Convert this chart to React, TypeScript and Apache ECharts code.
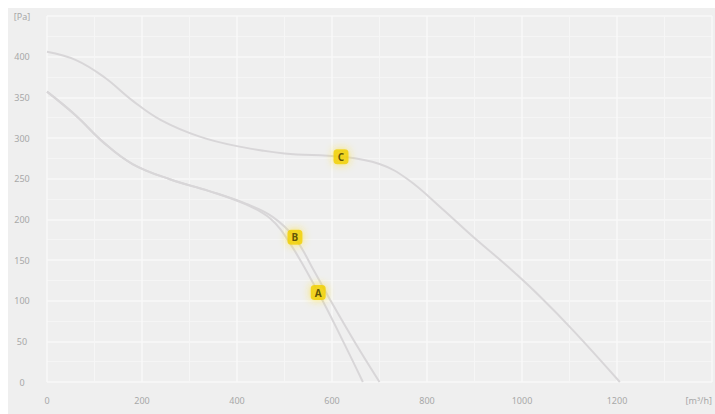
import React, { useEffect, useRef } from "react";
import * as echarts from "echarts";

// Airflow [m³/h] vs pressure [Pa]
const curveA: [number, number][] = [
  [0, 357], [60, 328], [120, 294], [180, 268], [260, 249], [340, 235], [420, 218],
  [470, 201], [510, 172], [571, 110], [620, 54], [665, 0],
];
const curveB: [number, number][] = [
  [0, 357], [60, 328], [120, 294], [180, 268], [260, 249], [340, 235], [420, 219],
  [475, 203], [522, 177], [560, 139], [600, 97], [650, 47], [700, 0],
];
const curveC: [number, number][] = [
  [0, 406], [60, 396], [120, 375], [180, 346], [240, 322], [320, 302], [400, 290],
  [500, 281], [619, 277], [700, 268], [760, 249], [830, 214], [900, 177], [970, 142],
  [1040, 104], [1110, 62], [1206, 0],
];
const curveLabels: [number, number, string][] = [
  [571, 110, "A"],
  [522, 178, "B"],
  [619, 277, "C"],
];
const xUnit = "[m³/h]";
const yUnit = "[Pa]";
const xMax = 1400;
const yMax = 450;

export default function App() {
  const ref = useRef<HTMLDivElement>(null);
  useEffect(() => {
    if (!ref.current) return;
    const chart = echarts.init(ref.current, undefined, { renderer: "svg" });
    const lineStyle = { color: "#d8d6d8", width: 2 };
    chart.setOption({
      animation: false,
      backgroundColor: "#efefef",
      textStyle: { fontFamily: "Noto Sans" },
      grid: { left: 39, right: 2, top: 8, bottom: 32 },
      xAxis: {
        type: "value",
        min: 0,
        max: xMax,
        interval: 200,
        axisLine: { show: false },
        axisTick: { show: false },
        axisLabel: {
          color: "#a8a8a8",
          fontSize: 9,
          margin: 14,
          alignMaxLabel: "right",
          formatter: (v: number) => (v === xMax ? xUnit : String(v)),
        },
        splitLine: { show: true, lineStyle: { color: "#f8f8f8", width: 1.5 } },
        minorTick: { show: false, splitNumber: 2 },
        minorSplitLine: { show: true, lineStyle: { color: "#f6f6f6", width: 1 } },
      },
      yAxis: {
        type: "value",
        min: 0,
        max: yMax,
        interval: 50,
        axisLine: { show: false },
        axisTick: { show: false },
        axisLabel: {
          color: "#a8a8a8",
          fontSize: 9,
          margin: 25,
          align: "center",
          formatter: (v: number) => (v === yMax ? yUnit : String(v)),
        },
        splitLine: { show: true, lineStyle: { color: "#f8f8f8", width: 1.5 } },
        minorTick: { show: false, splitNumber: 2 },
        minorSplitLine: { show: true, lineStyle: { color: "#f5f5f5", width: 1 } },
      },
      series: [
        { type: "line", data: curveA, smooth: 0.4, showSymbol: false, lineStyle, silent: true },
        { type: "line", data: curveB, smooth: 0.4, showSymbol: false, lineStyle, silent: true },
        { type: "line", data: curveC, smooth: 0.4, showSymbol: false, lineStyle, silent: true },
        {
          type: "scatter",
          data: curveLabels,
          symbol: "roundRect",
          symbolSize: 15,
          itemStyle: {
            color: "#f1d000",
            shadowBlur: 8,
            shadowColor: "rgba(255,225,40,0.9)",
          },
          label: {
            show: true,
            position: "inside",
            formatter: (p: any) => p.value[2],
            color: "#3b3300",
            fontSize: 10,
            fontWeight: "bold",
          },
          z: 5,
        },
      ],
    });
    return () => chart.dispose();
  }, []);
  return (
    <div style={{ position: "fixed", left: 8, top: 8, right: 0, bottom: 0, overflow: "hidden" }}>
      <div ref={ref} style={{ width: 707, height: 406 }} />
    </div>
  );
}
